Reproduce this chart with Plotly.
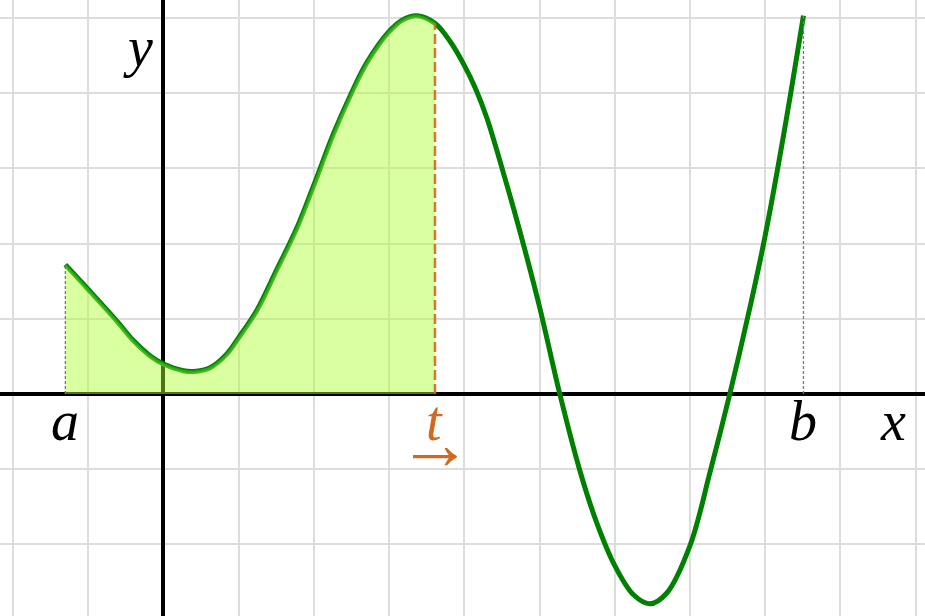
import plotly.graph_objects as go

# curve points (grid units)
curve_x = [-1.305, -1.00, -0.62, -0.40, -0.18, 0.00, 0.265, 0.40, 0.62, 0.84, 1.00,
           1.24, 1.50, 1.77, 2.00, 2.26, 2.48, 2.70, 3.00, 3.19, 3.37, 3.61, 3.81,
           4.00, 4.15, 4.30, 4.56, 4.74, 5.00, 5.27, 5.54, 5.76, 6.00, 6.25, 6.47, 6.69,
           7.00, 7.27, 7.53, 7.80, 8.00, 8.24, 8.51]
curve_y = [1.72, 1.39, 0.97, 0.71, 0.51, 0.40, 0.31, 0.30, 0.35, 0.53, 0.75,
           1.11, 1.64, 2.20, 2.78, 3.46, 3.96, 4.40, 4.82, 4.98, 5.03, 4.93, 4.69,
           4.37, 4.06, 3.67, 2.80, 2.16, 1.16, 0.00, -1.03, -1.71, -2.28, -2.67, -2.79, -2.65,
           -2.02, -1.03, 0.00, 1.16, 2.10, 3.41, 5.03]

t_index = 21  # curve_x[21] is t
a_x, a_y = curve_x[0], curve_y[0]
b_x, b_y = curve_x[-1], curve_y[-1]
t_x, t_y = curve_x[t_index], curve_y[t_index]

labels = {"a": a_x, "b": b_x, "x": 9.7}

fig = go.Figure()

# main curve
fig.add_trace(go.Scatter(x=curve_x, y=curve_y, mode="lines",
                         line=dict(color="#008000", width=5, shape="spline"),
                         hoverinfo="skip"))

# shaded area from a to t
fig.add_trace(go.Scatter(x=curve_x[:t_index + 1], y=curve_y[:t_index + 1], mode="lines",
                         fill="tozeroy", fillcolor="rgba(173,255,47,0.45)",
                         line=dict(color="rgba(40,170,30,0.9)", width=2, shape="spline"),
                         hoverinfo="skip"))

# dotted verticals at a and b
for vx, vy in [(a_x, a_y), (b_x, b_y)]:
    fig.add_trace(go.Scatter(x=[vx, vx], y=[0, vy], mode="lines",
                             line=dict(color="#777777", width=1.3, dash="3px,2px"),
                             hoverinfo="skip"))

# dashed line at t
fig.add_trace(go.Scatter(x=[t_x, t_x], y=[0, t_y], mode="lines",
                         line=dict(color="rgba(200,110,30,0.9)", width=2.5, dash="10px,4px"),
                         hoverinfo="skip"))

font_it = dict(family="Liberation Serif", size=56, color="black", style="italic")

for name, lx in labels.items():
    fig.add_annotation(x=lx, y=0, text=name, showarrow=False, xanchor="center",
                       yanchor="middle", yshift=-27, font=font_it)

fig.add_annotation(x=-0.34, y=4.62, text="y", showarrow=False, xanchor="center",
                   yanchor="middle", font=font_it)

fig.add_annotation(x=t_x, y=0, text="t", showarrow=False, xanchor="center",
                   yanchor="middle", yshift=-27, font=dict(font_it, color="#d2691e"))
fig.add_annotation(x=t_x, y=0, text="→", showarrow=False, xanchor="center",
                   yanchor="middle", yshift=-50,
                   font=dict(family="Liberation Serif", size=74, color="#d2691e"))

axis_style = dict(showticklabels=False, ticks="", dtick=1, tick0=0,
                  showgrid=True, gridcolor="#dddddd", gridwidth=2,
                  zeroline=True, zerolinecolor="black", zerolinewidth=4,
                  showline=False, fixedrange=True)

fig.update_xaxes(range=[-2.174, 10.126], **axis_style)
fig.update_yaxes(range=[-2.952, 5.239], **axis_style)

fig.update_layout(width=925, height=616, margin=dict(l=0, r=0, t=0, b=0),
                  plot_bgcolor="white", paper_bgcolor="white", showlegend=False)

fig.write_html("out.html", config={"displayModeBar": False},
               post_script="document.body.style.margin='0';")
